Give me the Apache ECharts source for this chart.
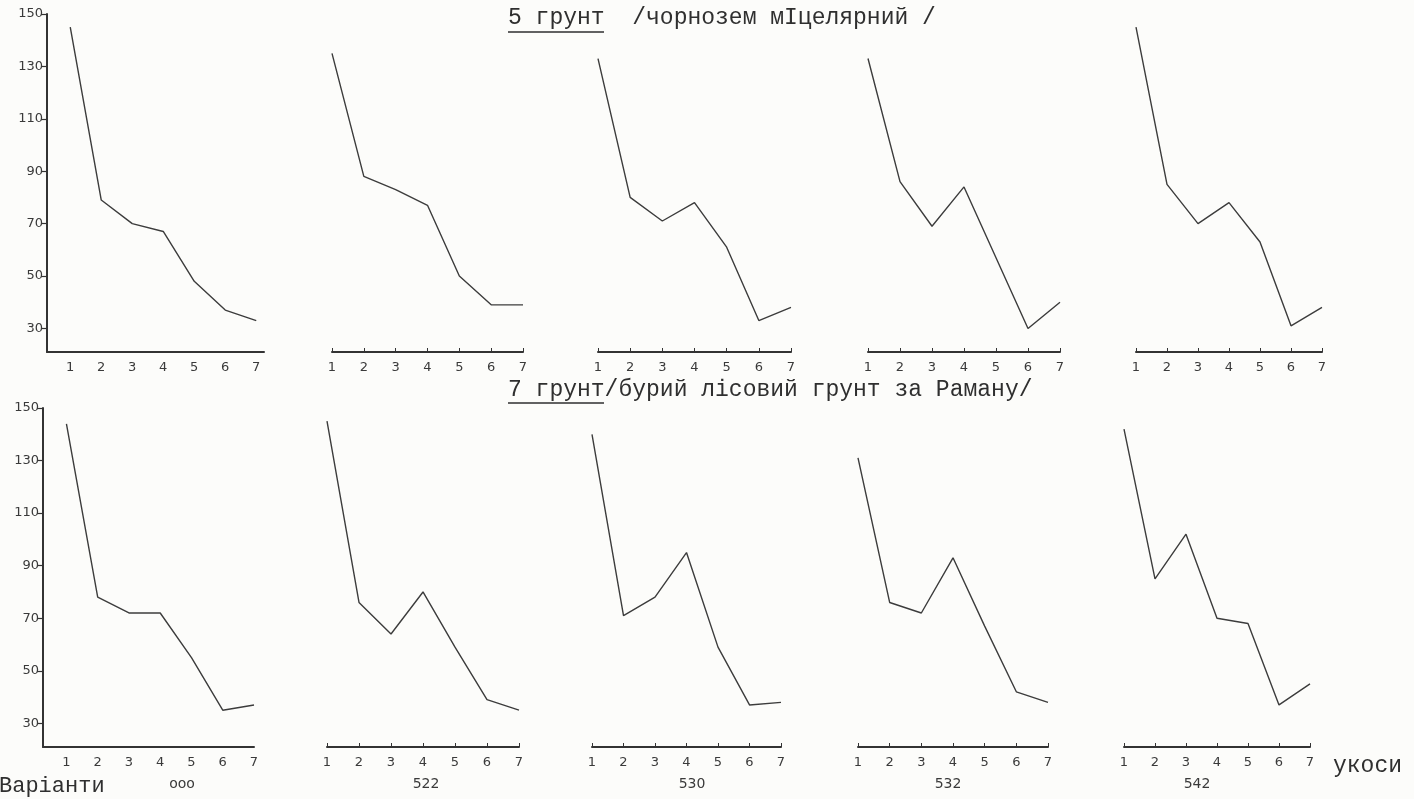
<!DOCTYPE html>
<html>
<head>
<meta charset="utf-8">
<script src="https://cdn.jsdelivr.net/npm/echarts@6/dist/echarts.min.js"></script>
<style>
  html, body { margin: 0; padding: 0; background: #fcfcfa; }
  #chart { width: 1414px; height: 799px; }
</style>
</head>
<body>
<div id="chart"></div>
<script>
// укоси (cuts) along x, yield values
const cutNo = [1, 2, 3, 4, 5, 6, 7];
const yTicks = [30, 50, 70, 90, 110, 130, 150];
const variants = ['ooo', '522', '530', '532', '542'];

// 5 грунт /чорнозем мIцелярний/
const chern000 = [145, 79, 70, 67, 48, 37, 33];
const chern522 = [135, 88, 83, 77, 50, 39, 39];
const chern530 = [133, 80, 71, 78, 61, 33, 38];
const chern532 = [133, 86, 69, 84, 57, 30, 40];
const chern542 = [145, 85, 70, 78, 63, 31, 38];

// 7 грунт /бурий лісовий грунт за Раману/
const bury000 = [144, 78, 72, 72, 55, 35, 37];
const bury522 = [145, 76, 64, 80, 59, 39, 35];
const bury530 = [140, 71, 78, 95, 59, 37, 38];
const bury532 = [131, 76, 72, 93, 67, 42, 38];
const bury542 = [142, 85, 102, 70, 68, 37, 45];

const soil5 = [chern000, chern522, chern530, chern532, chern542];
const soil7 = [bury000, bury522, bury530, bury532, bury542];

// layout of the small panels (pixels)
const rowTop = [14, 408];
const rowBottom = [352, 747];
const colLeft = [[47, 332, 598, 868, 1136], [43, 327, 592, 858, 1124]];
const colWidth = [[217, 191, 193, 192, 186], [211, 192, 189, 190, 186]];
const firstMax = [7.25, 7];
const yMin = 21;

const ink = '#333';
const labelFont = { color: '#3a3a3a', fontSize: 13, fontFamily: 'DejaVu Sans' };

const grids = [], xAxes = [], yAxes = [], series = [];

[soil5, soil7].forEach((rows, r) => {
  rows.forEach((vals, c) => {
    const k = grids.length;
    const first = c === 0;
    grids.push({
      left: colLeft[r][c], top: rowTop[r],
      width: colWidth[r][c], height: rowBottom[r] - rowTop[r],
      outerBoundsMode: 'none'
    });
    xAxes.push({
      gridIndex: k, type: 'value',
      min: first ? 0.25 : 1, max: first ? firstMax[r] : 7,
      interval: first ? 0.25 : 1,
      axisLine: { show: true, onZero: false, lineStyle: { color: ink, width: 2 } },
      axisTick: { show: !first, inside: true, length: 4, lineStyle: { color: ink, width: 1 } },
      axisLabel: Object.assign({ margin: 9, formatter: v => Number.isInteger(v) ? String(v) : '' }, labelFont),
      splitLine: { show: false }
    });
    yAxes.push({
      gridIndex: k, type: 'value', min: yMin, max: 150, show: first,
      axisLine: { show: true, onZero: false, lineStyle: { color: ink, width: 2 } },
      axisTick: { show: false }, axisLabel: { show: false }, splitLine: { show: false }
    });
    series.push({
      type: 'line', xAxisIndex: k, yAxisIndex: k,
      data: cutNo.map((x, i) => [x, vals[i]]),
      symbol: 'none', silent: true,
      lineStyle: { color: '#3c3c3c', width: 1.4 }
    });
  });
});

// y tick labels 30..150 for the first panel of each row
rowTop.forEach((top, r) => {
  const k = grids.length;
  const full = rowBottom[r] - top;
  grids.push({
    left: colLeft[r][0], top: top, width: 10,
    height: full * (150 - yTicks[0]) / (150 - yMin),
    outerBoundsMode: 'none'
  });
  xAxes.push({ gridIndex: k, type: 'value', show: false });
  yAxes.push({
    gridIndex: k, type: 'value', min: yTicks[0], max: yTicks[yTicks.length - 1], interval: 20,
    axisLine: { show: false },
    axisTick: { show: true, length: 6, lineStyle: { color: ink, width: 1.2 } },
    axisLabel: Object.assign({ margin: 4 }, labelFont),
    splitLine: { show: false }
  });
});

const mono = 'Liberation Mono';
const graphic = [
  { type: 'text', x: 508, y: 18, style: { text: '5 грунт  /чорнозем мIцелярний /', font: '23px "' + mono + '"', fill: '#2f2f2f', verticalAlign: 'middle' } },
  { type: 'line', shape: { x1: 508, y1: 32, x2: 604, y2: 32 }, style: { stroke: '#2f2f2f', lineWidth: 1.5 } },
  { type: 'text', x: 508, y: 390, style: { text: '7 грунт/бурий лісовий грунт за Раману/', font: '23px "' + mono + '"', fill: '#2f2f2f', verticalAlign: 'middle' } },
  { type: 'line', shape: { x1: 508, y1: 403, x2: 604, y2: 403 }, style: { stroke: '#2f2f2f', lineWidth: 1.5 } },
  { type: 'text', x: -1, y: 786, style: { text: 'Варiанти', font: '22px "' + mono + '"', fill: '#2f2f2f', verticalAlign: 'middle' } },
  { type: 'text', x: 1333, y: 766, style: { text: 'укоси', font: '23px "' + mono + '"', fill: '#2f2f2f', verticalAlign: 'middle' } }
];
const variantX = [182, 426, 692, 948, 1197];
variants.forEach((v, i) => {
  graphic.push({ type: 'text', x: variantX[i], y: 784, style: { text: v, font: '14px "DejaVu Sans"', fill: '#3a3a3a', align: 'center', verticalAlign: 'middle' } });
});

const chart = echarts.init(document.getElementById('chart'));
chart.setOption({
  backgroundColor: '#fcfcfa',
  animation: false,
  grid: grids,
  xAxis: xAxes,
  yAxis: yAxes,
  series: series,
  graphic: graphic
});
</script>
</body>
</html>
